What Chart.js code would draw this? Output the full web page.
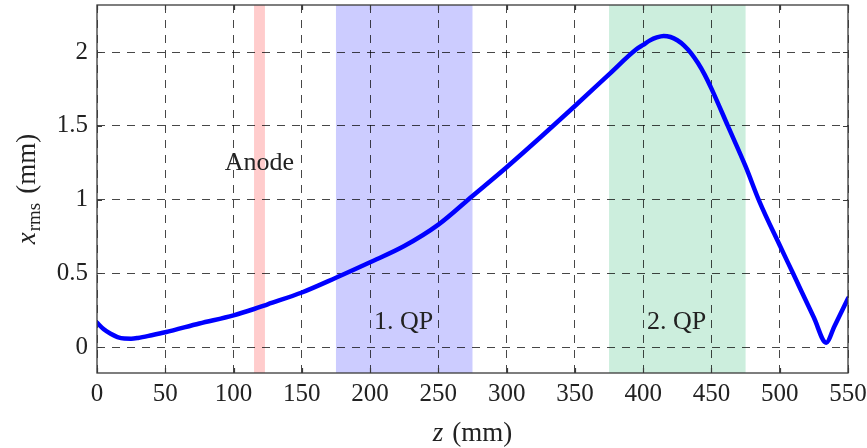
<!DOCTYPE html>
<html>
<head>
<meta charset="utf-8">
<script src="https://cdn.jsdelivr.net/npm/chart.js@4/dist/chart.umd.min.js"></script>
<style>
html,body{margin:0;padding:0;background:#fff;}
#wrap{width:867px;height:448px;position:relative;}
</style>
</head>
<body>
<div id="wrap"><canvas id="c" width="867" height="448"></canvas></div>
<script>
// ---- data ----
const zValues    = [0, 5, 10, 15, 20, 25, 30, 40, 50, 75, 100, 115, 125, 150, 175, 200, 225, 250, 275, 300, 325, 350, 375, 395, 400, 405, 410, 415, 420, 425, 430, 435, 440, 445, 450, 462, 475, 485, 500, 510, 525, 534, 540, 550];
const xrmsValues = [0.165, 0.12, 0.09, 0.068, 0.058, 0.057, 0.062, 0.08, 0.10, 0.16, 0.215, 0.258, 0.29, 0.37, 0.47, 0.575, 0.685, 0.83, 1.025, 1.22, 1.425, 1.635, 1.85, 2.02, 2.05, 2.08, 2.10, 2.11, 2.103, 2.081, 2.045, 1.994, 1.928, 1.848, 1.753, 1.50, 1.225, 0.99, 0.69, 0.495, 0.20, 0.03, 0.14, 0.33];
const xTickValues = [0, 50, 100, 150, 200, 250, 300, 350, 400, 450, 500, 550];
const yTickValues = [0, 0.5, 1, 1.5, 2];
const bandStarts = [115, 175, 375];
const bandEnds   = [123, 275, 475];
const bandColors = ['rgba(255,0,0,0.2)', 'rgba(0,0,255,0.2)', 'rgba(0,170,85,0.2)'];
const noteTexts = ['Anode', '1. QP', '2. QP'];
const noteZ     = [119, 224.5, 424.5];
const noteY     = [1.25, 0.17, 0.17];

const FONT = '"Liberation Serif", "Times New Roman", serif';

const decor = {
  id: 'decor',
  beforeDraw(chart) {
    const {ctx, chartArea: a, scales: {x}} = chart;
    ctx.save();
    ctx.beginPath(); ctx.rect(a.left, a.top, a.right - a.left, a.bottom - a.top); ctx.clip();
    for (let i = 0; i < bandStarts.length; i++) {
      const x0 = x.getPixelForValue(bandStarts[i]), x1 = x.getPixelForValue(bandEnds[i]);
      ctx.fillStyle = bandColors[i];
      ctx.fillRect(x0, a.top, x1 - x0, a.bottom - a.top);
    }
    ctx.restore();
  },
  afterDraw(chart) {
    const {ctx, chartArea: a, scales: {x, y}} = chart;
    ctx.save();
    // frame
    ctx.strokeStyle = '#3a3a3a'; ctx.lineWidth = 1.3;
    ctx.strokeRect(a.left, a.top, a.right - a.left, a.bottom - a.top);
    // inward tick marks
    ctx.lineWidth = 1.2; ctx.beginPath();
    const tl = 5;
    xTickValues.forEach(v => {
      const p = Math.round(x.getPixelForValue(v)) + 0.5;
      ctx.moveTo(p, a.bottom); ctx.lineTo(p, a.bottom - tl);
      ctx.moveTo(p, a.top); ctx.lineTo(p, a.top + tl);
    });
    yTickValues.forEach(v => {
      const p = Math.round(y.getPixelForValue(v)) + 0.5;
      ctx.moveTo(a.left, p); ctx.lineTo(a.left + tl, p);
      ctx.moveTo(a.right, p); ctx.lineTo(a.right - tl, p);
    });
    ctx.stroke();
    // notes
    ctx.fillStyle = '#222';
    ctx.font = '26px ' + FONT;
    ctx.textAlign = 'center'; ctx.textBaseline = 'middle';
    for (let i = 0; i < noteTexts.length; i++) {
      ctx.fillText(noteTexts[i], x.getPixelForValue(noteZ[i]), y.getPixelForValue(noteY[i]));
    }
    // x title: z (mm)
    ctx.textBaseline = 'alphabetic'; ctx.textAlign = 'left';
    const fI = 'italic 27px ' + FONT, fR = '27px ' + FONT;
    ctx.font = fI; const wz = ctx.measureText('z').width;
    ctx.font = fR; const wm = ctx.measureText('(mm)').width;
    const gap = 9;
    const cx = (a.left + a.right) / 2;
    let sx = cx - (wz + gap + wm) / 2;
    ctx.font = fI; ctx.fillText('z', sx, 441);
    ctx.font = fR; ctx.fillText('(mm)', sx + wz + gap, 441);
    // y title: x_rms (mm)
    const fS = '19px ' + FONT;
    ctx.font = fI; const w1 = ctx.measureText('x').width;
    ctx.font = fS; const w2 = ctx.measureText('rms').width;
    ctx.font = fR; const w3 = ctx.measureText('(mm)').width;
    const tot = w1 + 1 + w2 + gap + w3;
    ctx.translate(35, (a.top + a.bottom) / 2);
    ctx.rotate(-Math.PI / 2);
    let px = -tot / 2;
    ctx.font = fI; ctx.fillText('x', px, 0); px += w1 + 1;
    ctx.font = fS; ctx.fillText('rms', px, 5); px += w2 + gap;
    ctx.font = fR; ctx.fillText('(mm)', px, 0);
    ctx.restore();
  }
};

new Chart(document.getElementById('c'), {
  type: 'line',
  data: {
    datasets: [{
      data: zValues.map((z, i) => ({x: z, y: xrmsValues[i]})),
      borderColor: '#0000ff',
      borderWidth: 4.5,
      pointRadius: 0,
      fill: false,
      cubicInterpolationMode: 'monotone',
      borderJoinStyle: 'round',
      borderCapStyle: 'round'
    }]
  },
  options: {
    responsive: false,
    animation: false,
    devicePixelRatio: 1,
    layout: {padding: {top: 5, right: 19, left: 0, bottom: 0}},
    plugins: {legend: {display: false}, tooltip: {enabled: false}},
    scales: {
      x: {
        type: 'linear', min: 0, max: 550,
        afterFit(s) { s.height = 75; s.paddingLeft = 0; s.paddingRight = 0; },
        afterBuildTicks(s) { s.ticks = xTickValues.map(v => ({value: v})); },
        grid: {color: 'rgba(0,0,0,0.72)', lineWidth: 1, drawTicks: false},
        border: {display: false, dash: [8, 7]},
        ticks: {font: {family: FONT, size: 25}, color: '#222', padding: 6, maxRotation: 0, autoSkip: false,
                callback: v => String(v)}
      },
      y: {
        type: 'linear', min: -0.176, max: 2.32,
        afterFit(s) { s.width = 97; s.paddingTop = 0; s.paddingBottom = 0; },
        afterBuildTicks(s) { s.ticks = yTickValues.map(v => ({value: v})); },
        grid: {color: 'rgba(0,0,0,0.72)', lineWidth: 1, drawTicks: false},
        border: {display: false, dash: [8, 7]},
        ticks: {font: {family: FONT, size: 25}, color: '#222', padding: 9, autoSkip: false,
                callback: v => String(v)}
      }
    }
  },
  plugins: [decor]
});
</script>
</body>
</html>
